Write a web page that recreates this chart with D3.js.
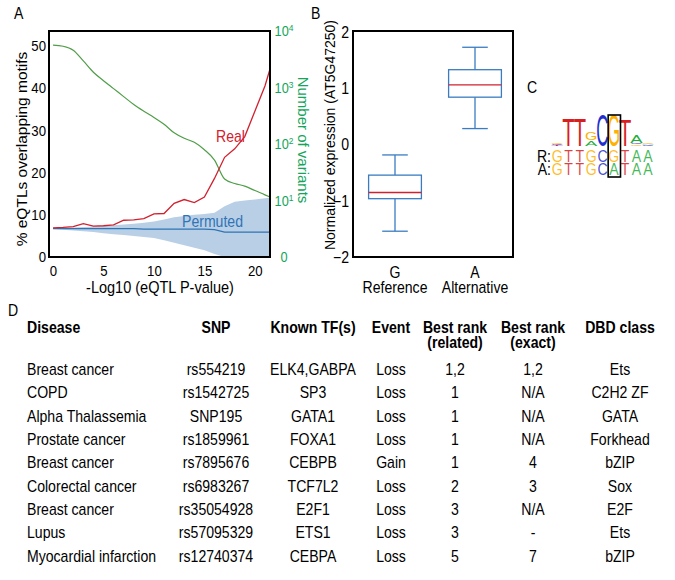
<!DOCTYPE html>
<html><head><meta charset="utf-8">
<script src="https://cdn.jsdelivr.net/npm/d3@7"></script>
<style>html,body{margin:0;padding:0;background:#fff}svg{display:block}</style>
</head><body><div id="chart"></div>
<script>
// ---------------- DATA ----------------
// Panel A: x = -log10(eQTL P-value)
const pValueX      = [0,1,2,3,4,5,6,7,8,9,10,11,12,13,14,15,16,17,18,19,20,21,21.5];
const realPct      = [6.9,7.0,7.2,7.9,7.3,7.4,7.6,8.7,8.8,9.1,10.2,10.3,12.7,13.6,12.9,14.2,18.6,23.6,25.6,28.5,34.5,40.5,44.5];
const permutedPct  = [6.7,6.7,6.7,6.7,6.7,6.7,6.7,6.7,6.7,6.6,6.6,6.6,6.6,6.6,6.6,6.6,6.5,5.9,5.9,5.9,5.9,5.9,5.9];
const permHigh     = [6.9,6.95,7.0,7.1,7.2,7.35,7.5,7.7,7.9,8.1,8.4,8.9,9.4,9.7,10.0,10.2,10.5,12.0,13.1,13.4,13.6,13.9,14.0];
const permLow      = [6.6,6.45,6.3,6.1,5.9,5.65,5.4,5.2,5.0,4.75,4.5,3.95,3.4,2.8,2.2,1.6,0.7,0,0,0,0,0,0];
const variantCount = [5620,5370,4570,2950,1860,1320,955,690,500,380,295,224,158,126,107,79,52,24,20,18,15,12.6,11.5];
const xTicksA  = [0,5,10,15,20];
const yTicksA  = [0,10,20,30,40,50];
const yTicksAR = [1,10,100,1000,10000];

// Panel B: box plots
const alleles      = ['G','A'];
const alleleNames  = ['Reference','Alternative'];
const whiskerLow   = [-1.54, 0.29];
const quart1       = [-0.96, 0.85];
const medians      = [-0.85, 1.07];
const quart3       = [-0.54, 1.34];
const whiskerHigh  = [-0.18, 1.74];
const yTicksB      = [-2,-1,0,1,2];

// Panel C: sequence logo (heights in bits, stacked bottom-up)
const logoColumns = [
  [['T',0.03],['C',0.04],['G',0.08]],
  [['T',1.62]],
  [['T',1.62]],
  [['A',0.33],['G',0.45]],
  [['C',1.92]],
  [['G',1.92]],
  [['T',1.6]],
  [['G',0.06],['C',0.07],['A',0.48]],
  [['C',0.04],['A',0.05],['G',0.06]]
];
const seqRef = 'GTTGCGTAA';
const seqAlt = 'GTTGCATAA';
const variantPos = 5;

// Panel D: table
const tableHeader1 = ['Disease','SNP','Known TF(s)','Event','Best rank','Best rank','DBD class'];
const tableHeader2 = ['','','','','(related)','(exact)',''];
const diseases  = ['Breast cancer','COPD','Alpha Thalassemia','Prostate cancer','Breast cancer','Colorectal cancer','Breast cancer','Lupus','Myocardial infarction'];
const snps      = ['rs554219','rs1542725','SNP195','rs1859961','rs7895676','rs6983267','rs35054928','rs57095329','rs12740374'];
const knownTFs  = ['ELK4,GABPA','SP3','GATA1','FOXA1','CEBPB','TCF7L2','E2F1','ETS1','CEBPA'];
const events    = ['Loss','Loss','Loss','Loss','Gain','Loss','Loss','Loss','Loss'];
const rankRelated = ['1,2','1','1','1','1','2','3','3','5'];
const rankExact   = ['1,2','N/A','N/A','N/A','4','3','N/A','-','7'];
const dbdClass    = ['Ets','C2H2 ZF','GATA','Forkhead','bZIP','Sox','E2F','Ets','bZIP'];

// ---------------- STYLE ----------------
const FONT = "'Liberation Sans', Arial, Helvetica, sans-serif";
const SX = 0.88;
const RED = '#d2202e', GREEN_LINE = '#4f9e48', GREEN_TXT = '#13a55a', BLUE = '#2f74b5', BAND = '#b9cfe6', BOXBLUE = '#3b7cc0';
const LOGO_COL = {T:'#d81e1e', C:'#1f2fd0', G:'#ffb000', A:'#1fae3c'};

const svg = d3.select('#chart').append('svg').attr('width',675).attr('height',580)
  .style('font-family', FONT);
svg.append('rect').attr('width',675).attr('height',580).attr('fill','#fff');

function label(g, x, y, s, o = {}) {
  const t = g.append('text')
    .attr('transform', `translate(${x},${y}) rotate(${o.rotate||0}) scale(${o.sx ?? SX},1)`)
    .attr('font-size', o.size || 16)
    .attr('text-anchor', o.anchor || 'start')
    .attr('font-weight', o.weight || 'normal')
    .attr('fill', o.fill || '#000')
    .text(s);
  return t;
}
function squeezeAxisText(axisG, size, fill) {
  axisG.selectAll('.tick text').each(function () {
    const x = +this.getAttribute('x') || 0;
    this.setAttribute('x', 0);
    this.setAttribute('transform', `translate(${x},0) scale(${SX},1)`);
  }).attr('font-size', size).attr('fill', fill).style('font-family', FONT);
  axisG.select('.domain').remove();
}

// ---------------- PANEL A ----------------
const A = {l:49, r:270, t:31, b:257};
const xA  = d3.scaleLinear().domain([-0.4, 21.5]).range([A.l, A.r]);
const yA  = d3.scaleLinear().domain([0, 53.5]).range([A.b, A.t]);
const yAR = d3.scaleLog().domain([1, 10000]).range([A.b, A.t]);
const gA = svg.append('g');

const idx = d3.range(pValueX.length);
gA.append('path')
  .attr('d', d3.area().x(i => xA(pValueX[i])).y0(i => yA(permLow[i])).y1(i => yA(permHigh[i]))(idx))
  .attr('fill', BAND);
gA.append('path')
  .attr('d', d3.line().x(i => xA(pValueX[i])).y(i => yA(permutedPct[i]))(idx))
  .attr('fill','none').attr('stroke', BLUE).attr('stroke-width',1.3);
gA.append('path')
  .attr('d', d3.line().curve(d3.curveMonotoneX).x(i => xA(pValueX[i])).y(i => yAR(variantCount[i]))(idx))
  .attr('fill','none').attr('stroke', GREEN_LINE).attr('stroke-width',1.2);
gA.append('path')
  .attr('d', d3.line().x(i => xA(pValueX[i])).y(i => yA(realPct[i]))(idx))
  .attr('fill','none').attr('stroke', RED).attr('stroke-width',1.3);

gA.append('rect').attr('x',A.l).attr('y',A.t).attr('width',A.r-A.l).attr('height',A.b-A.t)
  .attr('fill','none').attr('stroke','#000').attr('stroke-width',2);

const axAx = gA.append('g').attr('transform',`translate(0,${A.b})`)
  .call(d3.axisBottom(xA).tickValues(xTicksA).tickSize(0).tickPadding(8));
squeezeAxisText(axAx, 15, '#000');
const axAy = gA.append('g').attr('transform',`translate(${A.l},0)`)
  .call(d3.axisLeft(yA).tickValues(yTicksA).tickSize(0).tickPadding(3));
squeezeAxisText(axAy, 15, '#000');
const axAr = gA.append('g').attr('transform',`translate(${A.r},0)`)
  .call(d3.axisRight(yAR).tickValues(yTicksAR).tickSize(0).tickPadding(14));
squeezeAxisText(axAr, 14.5, GREEN_TXT);
axAr.selectAll('.tick text').attr('text-anchor','middle').each(function (d) {
  const t = d3.select(this); t.text(null);
  if (d === 1) { t.text('0'); return; }
  t.append('tspan').text('10');
  t.append('tspan').attr('dy','-0.5em').attr('font-size','0.66em').text(Math.round(Math.log10(d)));
});

label(gA, 160, 293, '-Log10 (eQTL P-value)', {size:16.5, anchor:'middle'});
label(gA, 27, 149, '% eQTLs overlapping motifs', {size:15.5, anchor:'middle', rotate:-90, sx:1});
label(gA, 297.5, 140, 'Number of variants', {size:15, anchor:'middle', rotate:90, sx:1, fill:GREEN_TXT});
label(gA, 216, 142, 'Real', {size:16, fill:RED});
label(gA, 182, 227, 'Permuted', {size:16, fill:BLUE});
label(gA, 14, 19, 'A', {size:16});

// ---------------- PANEL B ----------------
const B = {l:353, r:513, t:31, b:257};
const xB = d3.scalePoint().domain(alleles).range([355, 515]).padding(0.5);
const yB = d3.scaleLinear().domain([-2, 2.03]).range([B.b, B.t]);
const gB = svg.append('g');
const step = xB.step(), bw = step*0.66, cw = step*0.32;
alleles.forEach((a, i) => {
  const cx = xB(a);
  const g = gB.append('g').attr('stroke', BOXBLUE).attr('stroke-width',1.3).attr('fill','none');
  g.append('line').attr('x1',cx).attr('x2',cx).attr('y1',yB(whiskerHigh[i])).attr('y2',yB(quart3[i]));
  g.append('line').attr('x1',cx).attr('x2',cx).attr('y1',yB(quart1[i])).attr('y2',yB(whiskerLow[i]));
  g.append('line').attr('x1',cx-cw/2).attr('x2',cx+cw/2).attr('y1',yB(whiskerHigh[i])).attr('y2',yB(whiskerHigh[i]));
  g.append('line').attr('x1',cx-cw/2).attr('x2',cx+cw/2).attr('y1',yB(whiskerLow[i])).attr('y2',yB(whiskerLow[i]));
  g.append('rect').attr('x',cx-bw/2).attr('width',bw).attr('y',yB(quart3[i])).attr('height',yB(quart1[i])-yB(quart3[i]));
  g.append('line').attr('x1',cx-bw/2).attr('x2',cx+bw/2).attr('y1',yB(medians[i])).attr('y2',yB(medians[i]))
    .attr('stroke', RED);
  label(gB, cx, 278, a, {size:16, anchor:'middle'});
  label(gB, cx, 293, alleleNames[i], {size:16, anchor:'middle'});
});
gB.append('rect').attr('x',B.l).attr('y',B.t).attr('width',B.r-B.l).attr('height',B.b-B.t)
  .attr('fill','none').attr('stroke','#000').attr('stroke-width',2);
const axBy = gB.append('g').attr('transform',`translate(${B.l},0)`)
  .call(d3.axisLeft(yB).tickValues(yTicksB).tickSize(0).tickPadding(4).tickFormat(d3.format('d')));
squeezeAxisText(axBy, 16, '#000');
label(gB, 335, 135, 'Normalized expression (AT5G47250)', {size:14, anchor:'middle', rotate:-90, sx:1});
label(gB, 311, 19, 'B', {size:16});

// ---------------- PANEL C ----------------
const gC = svg.append('g');
label(gC, 527, 93, 'C', {size:16});
const colX = d3.scaleBand().domain(d3.range(seqRef.length)).range([551.5, 653.5]);
const yBits = d3.scaleLinear().domain([0, 2]).range([145.5, 112]);
const CAP = 0.716;
logoColumns.forEach((col, ci) => {
  let cum = 0;
  col.forEach(([ch, h]) => {
    const y0 = yBits(cum), y1 = yBits(cum + h);
    cum += h;
    const hh = y0 - y1;
    const t = gC.append('text').text(ch).attr('font-size',100).attr('text-anchor','middle')
      .attr('fill', LOGO_COL[ch]).style('font-family', FONT);
    const adv = t.node().getComputedTextLength();
    const sx = (colX.bandwidth()*1.0) / (adv*0.92);
    const sy = hh / (100*CAP);
    t.attr('transform', `translate(${colX(ci)+colX.bandwidth()/2},${y0}) scale(${sx},${sy})`);
  });
});
[[seqRef,'R:',161.5],[seqAlt,'A:',175]].forEach(([seq, tag, y]) => {
  label(gC, 551, y, tag, {size:16, anchor:'end'});
  seq.split('').forEach((ch, i) => {
    label(gC, colX(i)+colX.bandwidth()/2, y, ch, {size:16, anchor:'middle', fill: LOGO_COL[ch]})
      .attr('fill-opacity',0.85);
  });
});
gC.append('rect').attr('x', colX(variantPos)).attr('y',115).attr('width', colX.bandwidth()+1).attr('height',62)
  .attr('fill','none').attr('stroke','#000').attr('stroke-width',1.6);

// ---------------- PANEL D ----------------
const gD = svg.append('g');
label(gD, 8, 316, 'D', {size:16});
const colPos = [{x:27,a:'start'},{x:216,a:'middle'},{x:313,a:'middle'},{x:391,a:'middle'},{x:455,a:'middle'},{x:533,a:'middle'},{x:620,a:'middle'}];
tableHeader1.forEach((h, j) => label(gD, colPos[j].x, 333, h, {size:16, anchor:colPos[j].a, weight:'bold'}));
tableHeader2.forEach((h, j) => { if (h) label(gD, colPos[j].x, 348, h, {size:16, anchor:colPos[j].a, weight:'bold'}); });
const cols = [diseases, snps, knownTFs, events, rankRelated, rankExact, dbdClass];
diseases.forEach((_, i) => {
  const y = 375 + i*23.35;
  cols.forEach((c, j) => label(gD, colPos[j].x, y, c[i], {size:16, anchor:colPos[j].a}));
});
</script></body></html>
